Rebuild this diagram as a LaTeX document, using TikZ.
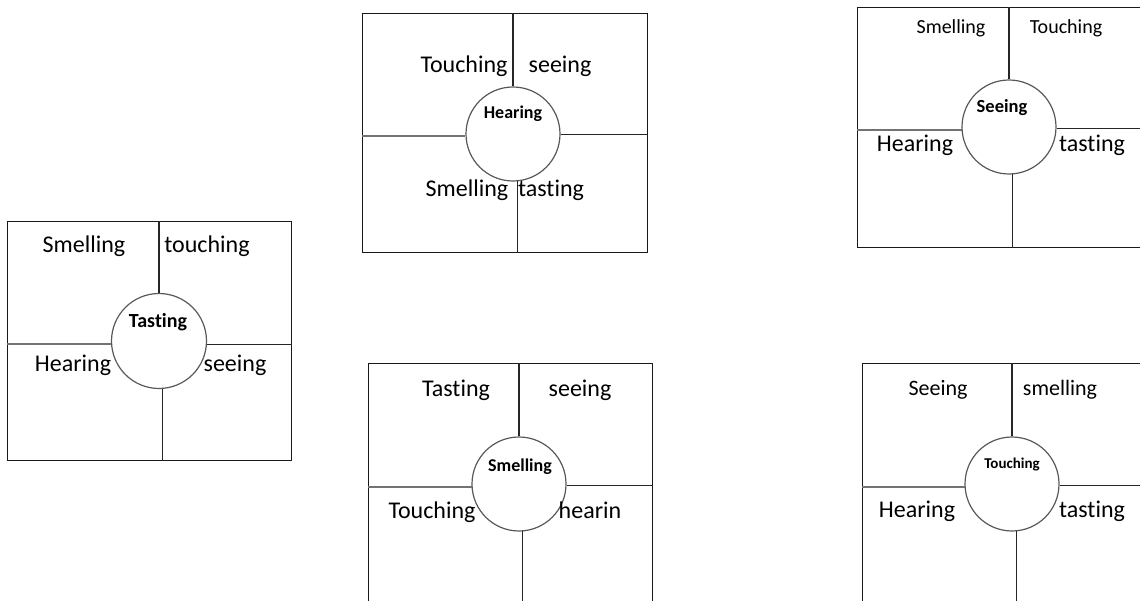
\documentclass[tikz,border=0pt]{standalone}
\usepackage{fontspec}
\setmainfont{Carlito}[Ligatures=NoCommon]
\begin{document}
\begin{tikzpicture}[x=1pt,y=-1pt,
  frame/.style={draw=black!90,line width=1.2pt,minimum width=#1,inner sep=0pt,anchor=north west},
  hub/.style={circle,draw=black!65,line width=1.2pt,minimum size=#1,inner sep=0pt},
  spoke/.style={draw=black!85,line width=1.2pt},
  lspoke/.style={draw=black!55,line width=1.8pt},
  word/.style={anchor=base,inner sep=0pt,font=\fontsize{#1}{#1}\selectfont},
  word/.default=24,
  hubword/.style={anchor=base,inner sep=0pt,font=\bfseries\fontsize{#1}{#1}\selectfont}]
\useasboundingbox (0,0) rectangle (1140,601);
\clip (0,0) rectangle (1140,601);

% ---------- Tasting ----------
\node[frame=284pt,minimum height=239pt] (b1) at (7,221) {};
\node[hub=95pt] (c1) at (159,341) {};
\node[hubword=20] (h1) at (158,328) {Tasting};
\draw[spoke] (c1.north) -- (c1.north |- b1.north);
\draw[spoke] (c1.-86) -- (c1.-86 |- b1.south);
\draw[lspoke] (c1.184) -- (c1.184 -| b1.west);
\draw[spoke] (c1.-4) -- (c1.-4 -| b1.east);
\node[word] (t1a) at (84,253) {Smelling};
\node[word] (t1b) at (207,253) {touching};
\node[word] (t1c) at (73,371) {Hearing};
\node[word] (t1d) at (235,371) {seeing};

% ---------- Hearing ----------
\node[frame=285pt,minimum height=239pt] (b2) at (362,13) {};
\node[hub=94pt] (c2) at (513,134) {};
\node[hubword=18] (h2) at (513,119) {Hearing};
\draw[spoke] (c2.north) -- (c2.north |- b2.north);
\draw[spoke] (c2.-85) -- (c2.-85 |- b2.south);
\draw[lspoke] (c2.182) -- (c2.182 -| b2.west);
\draw[spoke] (c2.-1) -- (c2.-1 -| b2.east);
\node[word] (t2a) at (464,73) {Touching};
\node[word] (t2b) at (560,73) {seeing};
\node[word] (t2c) at (467,197) {Smelling};
\node[word] (t2d) at (551,197) {tasting};

% ---------- Seeing ----------
\node[frame=300pt,minimum height=240pt] (b3) at (857,7) {};
\node[hub=94pt] (c3) at (1009,127) {};
\node[hubword=18.5] (h3) at (1002,113) {Seeing};
\draw[spoke] (c3.north) -- (c3.north |- b3.north);
\draw[spoke] (c3.-86) -- (c3.-86 |- b3.south);
\draw[lspoke] (c3.184) -- (c3.184 -| b3.west);
\draw[spoke] (c3.-2) -- (c3.-2 -| b3.east);
\node[word=20] (t3a) at (951,34) {Smelling};
\node[word=20] (t3b) at (1066,34) {Touching};
\node[word] (t3c) at (915,152) {Hearing};
\node[word] (t3d) at (1092,152) {tasting};

% ---------- Smelling ----------
\node[frame=284pt,minimum height=260pt] (b4) at (368,363) {};
\node[hub=94pt] (c4) at (519,484) {};
\node[hubword=18] (h4) at (520,471) {Smelling};
\draw[spoke] (c4.north) -- (c4.north |- b4.north);
\draw[spoke] (c4.-86) -- (c4.-86 |- b4.south);
\draw[lspoke] (c4.184) -- (c4.184 -| b4.west);
\draw[spoke] (c4.-2) -- (c4.-2 -| b4.east);
\node[word] (t4a) at (456,396) {Tasting};
\node[word] (t4b) at (580,396) {seeing};
\node[word] (t4c) at (432,518) {Touching};
\node[word] (t4d) at (590,518) {hearin};

% ---------- Touching ----------
\node[frame=300pt,minimum height=260pt] (b5) at (862,363) {};
\node[hub=94pt] (c5) at (1012,484) {};
\node[hubword=15] (h5) at (1012,468) {Touching};
\draw[spoke] (c5.north) -- (c5.north |- b5.north);
\draw[spoke] (c5.-85) -- (c5.-85 |- b5.south);
\draw[lspoke] (c5.184) -- (c5.184 -| b5.west);
\draw[spoke] (c5.-2) -- (c5.-2 -| b5.east);
\node[word=22] (t5a) at (938,395) {Seeing};
\node[word=22] (t5b) at (1060,395) {smelling};
\node[word] (t5c) at (917,517) {Hearing};
\node[word] (t5d) at (1092,517) {tasting};
\end{tikzpicture}
\end{document}
